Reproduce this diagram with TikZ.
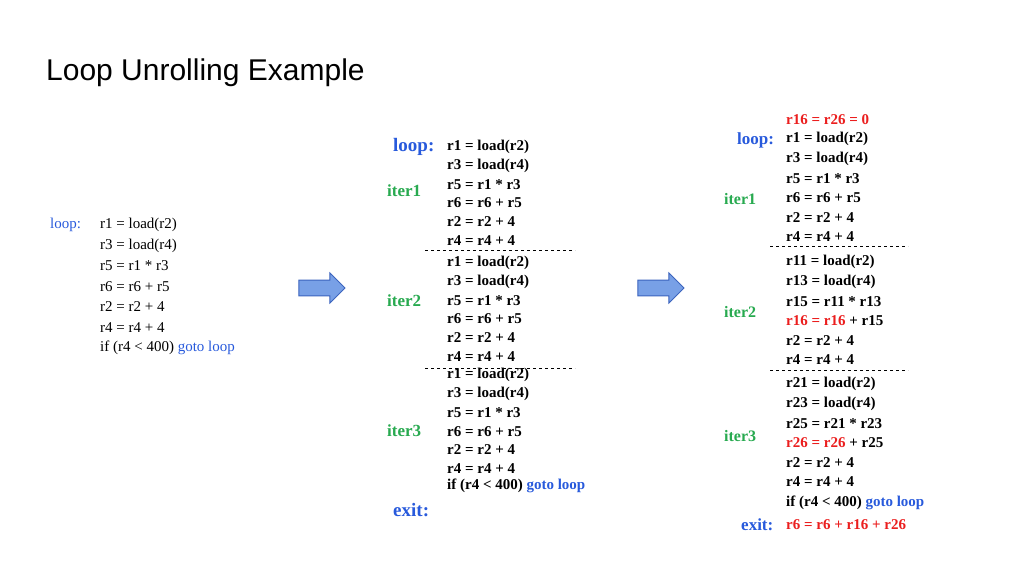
\documentclass[tikz,border=0pt]{standalone}
\usepackage{fontspec}
\setmainfont{Liberation Serif}
\newfontfamily\titlefont{Liberation Sans}
\usetikzlibrary{shapes.arrows}
\definecolor{kwblue}{RGB}{40,90,220}
\definecolor{itgreen}{RGB}{40,170,80}
\definecolor{hired}{RGB}{235,30,30}
\definecolor{arrfill}{RGB}{120,160,230}
\definecolor{arrline}{RGB}{60,100,190}
\tikzset{
  code/.style={anchor=west, inner sep=0pt, font=\fontsize{15}{15}\selectfont},
  bcode/.style={code, font=\fontsize{15}{15}\selectfont\bfseries},
  itlabel/.style={anchor=west, inner sep=0pt, text=itgreen, font=\fontsize{17}{17}\selectfont\bfseries},
  sep/.style={dashed, thin},
  fatarrow/.style={single arrow, draw=arrline, fill=arrfill, minimum height=46pt, minimum width=30pt, single arrow head extend=4pt, inner sep=4pt, line width=1pt}
}
\begin{document}
\begin{tikzpicture}[x=1pt,y=-1pt]
    \useasboundingbox[fill=white] (0,0) rectangle (1024,576);
    \node[anchor=west, inner sep=0pt, font=\titlefont\fontsize{30}{30}\selectfont] (title) at (46,73) {Loop Unrolling Example};

    % original loop
    \node[code, text=kwblue] (lloop) at (50,225) {loop:};
    \foreach \t [count=\i from 0] in {r1 = load(r2), r3 = load(r4), r5 = r1 * r3, r6 = r6 + r5, r2 = r2 + 4, r4 = r4 + 4}
      \node[code] (l\i) at (100,225+20.5*\i) {\t};
    \node[code] (lif) at (100,348) {if (r4 < 400) \textcolor{kwblue}{goto loop}};

    \node[fatarrow] (arr1) at (318,288) {};
    \node[fatarrow] (arr2) at (657,288) {};

    % unrolled, same registers
    \node[code, text=kwblue, font=\fontsize{19}{19}\selectfont\bfseries] (mloop) at (393,147) {loop:};
    \foreach \blk/\y in {a/147, b/263, c/375}
      \foreach \t [count=\i from 0] in {r1 = load(r2), r3 = load(r4), r5 = r1 * r3, r6 = r6 + r5, r2 = r2 + 4, r4 = r4 + 4}
        \node[bcode] (m\blk\i) at (447,\y+18.7*\i) {\t};
    \node[bcode] (mif) at (447,486) {if (r4 < 400) \textcolor{kwblue}{goto loop}};
    \node[code, text=kwblue, font=\fontsize{19}{19}\selectfont\bfseries] (mexit) at (393,510) {exit:};
    \node[itlabel] (mit1) at (387,191) {iter1};
    \node[itlabel] (mit2) at (387,301) {iter2};
    \node[itlabel] (mit3) at (387,431) {iter3};
    \draw[sep] (425,250) -- (575,250);
    \draw[sep] (425,368) -- (575,368);

    % unrolled, renamed registers
    \node[bcode, text=hired] (rinit) at (786,120) {r16 = r26 = 0};
    \node[code, text=kwblue, font=\fontsize{17}{17}\selectfont\bfseries] (rloop) at (737,140) {loop:};
    \foreach \t [count=\i from 0] in {r1 = load(r2), r3 = load(r4), r5 = r1 * r3, r6 = r6 + r5, r2 = r2 + 4, r4 = r4 + 4}
      \node[bcode] (ra\i) at (786,139+19.6*\i) {\t};
    \foreach \t [count=\i from 0] in {r11 = load(r2), r13 = load(r4), r15 = r11 * r13, \textcolor{hired}{r16 = r16} + r15, r2 = r2 + 4, r4 = r4 + 4}
      \node[bcode] (rb\i) at (786,262+19.6*\i) {\t};
    \foreach \t [count=\i from 0] in {r21 = load(r2), r23 = load(r4), r25 = r21 * r23, \textcolor{hired}{r26 = r26} + r25, r2 = r2 + 4, r4 = r4 + 4}
      \node[bcode] (rc\i) at (786,384+19.6*\i) {\t};
    \node[bcode] (rif) at (786,503) {if (r4 < 400) \textcolor{kwblue}{goto loop}};
    \node[code, text=kwblue, font=\fontsize{17}{17}\selectfont\bfseries] (rexit) at (741,525) {exit:};
    \node[bcode, text=hired] (rfin) at (786,525) {r6 = r6 + r16 + r26};
    \node[itlabel, font=\fontsize{16}{16}\selectfont\bfseries] (rit1) at (724,199) {iter1};
    \node[itlabel, font=\fontsize{16}{16}\selectfont\bfseries] (rit2) at (724,312) {iter2};
    \node[itlabel, font=\fontsize{16}{16}\selectfont\bfseries] (rit3) at (724,436) {iter3};
    \draw[sep] (770,246) -- (908,246);
    \draw[sep] (770,370) -- (908,370);
\end{tikzpicture}
\end{document}
